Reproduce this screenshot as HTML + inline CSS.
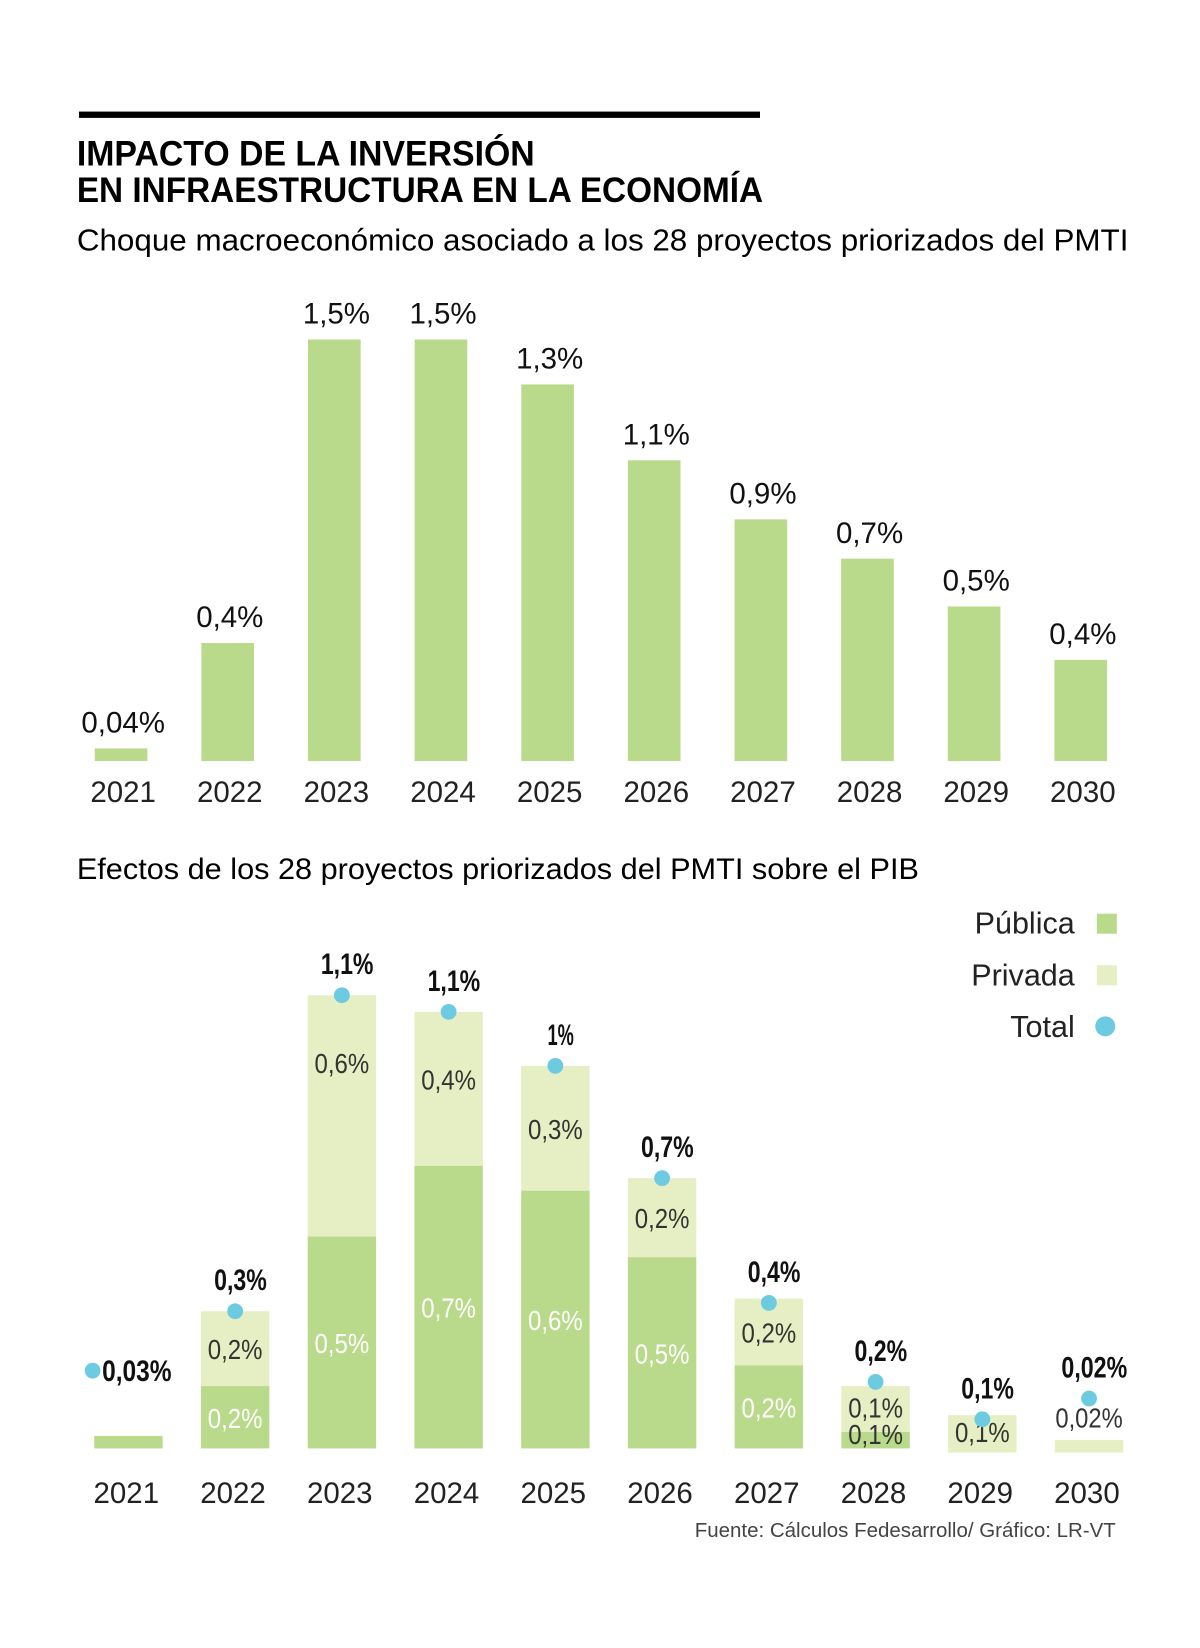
<!DOCTYPE html>
<html><head><meta charset="utf-8"><style>
html,body{margin:0;padding:0;background:#fff;}
svg{display:block;font-family:"Liberation Sans",sans-serif;}
</style></head><body>
<svg id="chart" width="1200" height="1648" viewBox="0 0 1140 1565.6" xmlns="http://www.w3.org/2000/svg">
<rect x="0" y="0" width="1140" height="1566" fill="#fff"/>
<rect x="75" y="106" width="647" height="6" fill="#000"/>
<text x="73" y="157" font-size="33" font-weight="bold" textLength="435" lengthAdjust="spacingAndGlyphs">IMPACTO DE LA INVERSIÓN</text>
<text x="73" y="192" font-size="33" font-weight="bold" textLength="652" lengthAdjust="spacingAndGlyphs">EN INFRAESTRUCTURA EN LA ECONOMÍA</text>
<text x="73" y="238" font-size="29" textLength="999" lengthAdjust="spacingAndGlyphs">Choque macroeconómico asociado a los 28 proyectos priorizados del PMTI</text>
<text x="73" y="835" font-size="28" textLength="800" lengthAdjust="spacingAndGlyphs">Efectos de los 28 proyectos priorizados del PMTI sobre el PIB</text>
<g>
<text x="1021" y="887" font-size="29" fill="#222" text-anchor="end">Pública</text>
<rect x="1042" y="868" width="19" height="19" fill="#b9da8b"/>
<text x="1021" y="936" font-size="29" fill="#222" text-anchor="end">Privada</text>
<rect x="1042" y="917" width="19" height="19" fill="#e6efc3"/>
<text x="1021" y="985" font-size="29" fill="#222" text-anchor="end">Total</text>
<circle cx="1050" cy="975" r="9.5" fill="#6ccbe0"/>
</g>
<text x="1060" y="1460" font-size="19" fill="#444" text-anchor="end" textLength="400" lengthAdjust="spacingAndGlyphs">Fuente: Cálculos Fedesarrollo/ Gráfico: LR-VT</text>
<g id="c1"></g>
<g id="c2"></g>
</svg>
<script>
const years = ["2021","2022","2023","2024","2025","2026","2027","2028","2029","2030"];
const shockValues = [0.045, 0.42, 1.5, 1.5, 1.34, 1.07, 0.86, 0.72, 0.55, 0.36];
const shockLabels = ["0,04%","0,4%","1,5%","1,5%","1,3%","1,1%","0,9%","0,7%","0,5%","0,4%"];
const publicaValues = [0.03, 0.15, 0.51, 0.68, 0.62, 0.46, 0.2, 0.04, -0.01, -0.01];
const privadaValues = [0, 0.18, 0.58, 0.37, 0.3, 0.19, 0.16, 0.11, 0.08, 0.02];
const totalValues = [0.03, 0.33, 1.09, 1.05, 0.92, 0.65, 0.35, 0.16, 0.07, 0.12];
const publicaLabels = ["","0,2%","0,5%","0,7%","0,6%","0,5%","0,2%","0,1%","",""];
const privadaLabels = ["","0,2%","0,6%","0,4%","0,3%","0,2%","0,2%","0,1%","0,1%","0,02%"];
const totalLabels = ["0,03%","0,3%","1,1%","1,1%","1%","0,7%","0,4%","0,2%","0,1%","0,02%"];

const NS = "http://www.w3.org/2000/svg";
function mk(parent, tag, attrs, txt){
  const e = document.createElementNS(NS, tag);
  for (const k in attrs) e.setAttribute(k, attrs[k]);
  if (txt !== undefined) e.textContent = txt;
  parent.appendChild(e); return e;
}
const x1 = i => 115 + i * 101.3;
const y1 = v => 723 - v * 267;
const g1 = document.getElementById("c1");
years.forEach((yr, i) => {
  const v = shockValues[i];
  const r = mk(g1, "rect", {x: x1(i) - 25, y: y1(v), width: 50, height: 723 - y1(v), fill: "#b9da8b"});
  
  
  const t = mk(g1, "text", {x: x1(i) + 2, y: y1(v) - 15, "font-size": 28, "text-anchor": "middle", fill: "#111"}, shockLabels[i]);
  
  
  const a = mk(g1, "text", {x: x1(i) + 2, y: 762, "font-size": 28, "text-anchor": "middle", fill: "#222"}, yr);
  
  
});
const x2 = i => 122 + i * 101.4;
const y2 = v => 1376 - v * 395;
const g2 = document.getElementById("c2");
years.forEach((yr, i) => {
  const p = publicaValues[i], q = privadaValues[i], tot = totalValues[i];
  const cx = x2(i), w = 65;
  let privBase;
  if (p >= 0) {
    const r = mk(g2, "rect", {x: cx - w/2, y: y2(p), width: w, height: y2(0) - y2(p), fill: "#b9da8b"});
    
    
    privBase = p;
  } else {
    const r = mk(g2, "rect", {x: cx - w/2, y: y2(0), width: w, height: y2(p) - y2(0), fill: "#e6efc3"});
    
    
    privBase = 0;
  }
  if (q > 0) {
    const r2 = mk(g2, "rect", {x: cx - w/2, y: y2(privBase + q), width: w, height: y2(privBase) - y2(privBase + q), fill: "#e6efc3"});
    
    
  }
  if (publicaLabels[i]) {
    const ly = p > 0.1 ? (y2(0) + y2(p)) / 2 + 10 : 1372;
    const t = mk(g2, "text", {x: cx, y: ly, "font-size": 26, "text-anchor": "middle", fill: p > 0.1 ? "#fff" : "#333", textLength: 52, lengthAdjust: "spacingAndGlyphs"}, publicaLabels[i]);
    
    
  }
  if (privadaLabels[i]) {
    const top = y2(privBase + q);
    let ly = Math.min((y2(privBase) + top) / 2 + 10, top + 74);
    if (q < 0.13) ly = Math.min(top + 30, 1370);
    if (i === 9) ly = 1356;
    const t = mk(g2, "text", {x: cx, y: ly, "font-size": 26, "text-anchor": "middle", fill: "#333", textLength: privadaLabels[i].length > 4 ? 64 : 52, lengthAdjust: "spacingAndGlyphs"}, privadaLabels[i]);
    
    
  }
  const dx = i === 0 ? 88 : cx;
  const d = mk(g2, "circle", {cx: dx, cy: y2(tot) - (i === 0 ? 62 : 0), r: 7.5, fill: "#6ccbe0"});
  
  
  const lbl = i === 0
    ? mk(g2, "text", {x: 97, y: y2(tot) - 52, "font-size": 28, "font-weight": "bold", fill: "#111", textLength: 66, lengthAdjust: "spacingAndGlyphs"}, totalLabels[i])
    : mk(g2, "text", {x: cx + 5, y: y2(tot) - 20, "font-size": 28, "font-weight": "bold", "text-anchor": "middle", fill: "#111", textLength: totalLabels[i].length * 12.5, lengthAdjust: "spacingAndGlyphs"}, totalLabels[i]);
  
  
  const a = mk(g2, "text", {x: cx - 2, y: 1428, "font-size": 28, "text-anchor": "middle", fill: "#222"}, yr);
  
  
});
</script>
</body></html>
